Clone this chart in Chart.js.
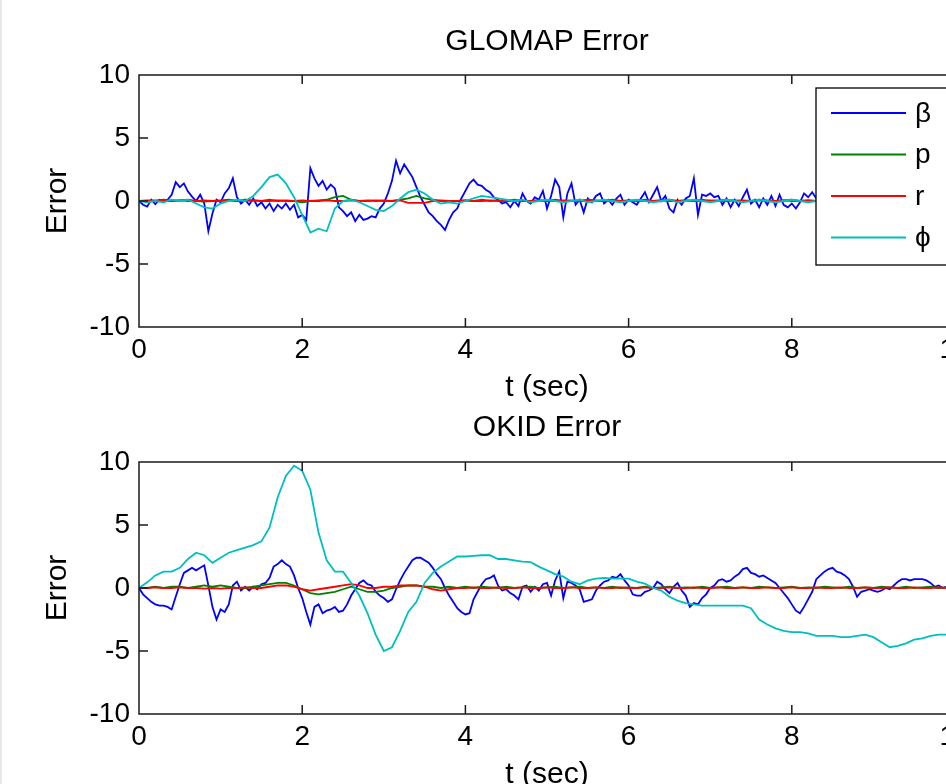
<!DOCTYPE html>
<html><head><meta charset="utf-8">
<script src="https://cdn.jsdelivr.net/npm/chart.js@4/dist/chart.umd.min.js"></script>
<style>
html,body{margin:0;padding:0;background:#fff;overflow:hidden;width:946px;height:784px;}
#wrap{position:relative;width:1000px;height:800px;}
canvas{position:absolute;left:0;}
#c1{top:0;}
#c2{top:390px;}
#edge{position:absolute;left:0;top:0;width:2px;height:784px;background:#e8e8e8;}
</style></head>
<body><div id="wrap">
<canvas id="c1" width="1000" height="410" style="width:1000px;height:410px"></canvas>
<canvas id="c2" width="1000" height="410" style="width:1000px;height:410px"></canvas>
<div id="edge"></div></div>
<script>
// ---- sampling steps (s) ----
const DT_FINE = 0.05;   // beta series
const DT_COARSE = 0.1;  // p, r, phi series

const seriesLabels = ['β', 'p', 'r', 'ϕ'];
const xTicks = [0, 2, 4, 6, 8, 10];
const yTicks = [-10, -5, 0, 5, 10];

// ---- GLOMAP Error ----
const glomapBeta = [
 0,-0.3,-0.45,0.1,-0.25,0.1,0,0.1,0.5,1.5,1.1,1.4,0.75,0.35,0,0.5,-0.2,-2.4,-1.0,0.1,
 -0.1,0.6,1.0,1.8,0.3,-0.2,0.1,-0.3,0.2,-0.4,-0.1,-0.6,-0.2,-0.8,-0.3,-0.6,-0.2,-0.7,-0.3,-1.3,
 -1.1,-1.5,2.6,1.8,1.2,1.6,0.9,1.3,1.0,-0.5,-0.8,-1.2,-0.9,-1.6,-1.1,-1.5,-1.4,-1.2,-1.3,-0.6,
 -0.2,0.6,1.6,3.2,2.2,2.9,2.4,1.9,1.1,0.3,-0.3,-0.9,-1.2,-1.6,-1.9,-2.3,-1.5,-0.9,-0.6,0.2,
 0.8,1.4,1.7,1.3,1.2,0.9,0.7,0.3,0.1,-0.2,-0.1,-0.5,0,-0.4,0.6,0,-0.2,0.3,0.1,0.8,
 -0.6,0.4,1.7,1.1,-1.3,0.6,1.4,-0.3,0.1,-0.9,0.2,-0.1,0.4,0.6,-0.2,0.1,-0.3,0.2,0.5,-0.3,
 0.1,-0.1,-0.3,0.2,0.7,-0.1,0.5,1.1,0,0.4,-0.6,-0.9,0.1,-0.3,0.2,0.4,1.8,-1.1,0.5,0.4,
 0.6,0.3,0.4,-0.3,0.2,-0.5,0.1,-0.4,0.3,0.9,-0.2,0.1,-0.5,0.2,-0.3,0.4,-0.4,0.5,-0.3,-0.5,
 -0.2,-0.6,-0.1,0.6,0.3,0.7,0.2,-0.2,0.3,-0.4,0.1,0.5,-0.1,0.2,-0.5,0.3,0,-0.3,0.4,-0.1,
 0.2,-0.4,0.1,0.5,-0.2,0.1,-0.3,0.2,0.4,-0.1,0,-0.4,0.2,0.3,-0.2,0.1,-0.3,0.2,0,-0.1,
 0.1];
const glomapP = [
 0,0.05,0,0.1,0,0.05,0.1,0,-0.05,0,
 0.05,0.1,0,0.1,0.05,0,0.1,0,0.05,0,
 -0.1,0,0.05,0.1,0.3,0.4,0.1,0,0.05,0,
 0.05,0,0.1,0.2,0.4,0.2,0.1,0,-0.05,0,
 0.05,0,0.1,0,0.05,0,0.1,0,0,0.05,
 0,0.1,0,0.05,0,0.1,0.05,0,0.1,0,
 0.05,0,0.1,0,0.05,0.1,0,0.05,0,0.1,
 0,0.05,0.1,0,0.05,0,0.1,0.05,0,0.05,
 0.1,0,0.05,0,0.1,0.05,0,0.1,0,0.05,
 0,0.1,0.05,0,0.1,0,0.05,0.1,0,0.05,
 0];
const glomapR = [
 0,0,0.05,0,0,0.05,0,0,0.05,0,
 0,0.05,0,0,0.05,0,0,0.05,0,0,
 0.05,0,0,0.05,0,0,0.05,0,0,0.05,
 0,0,0.05,-0.15,-0.15,-0.15,0,0.05,0,0,
 0.05,0,0,0.05,0,0,0.05,0,0,0.05,
 0,0,0.05,0,0,0.05,0,0,0.05,0,
 0,0.05,0,0,0.05,0,0,0.05,0,0,
 0.05,0,0,0.05,0,0,0.05,0,0,0.05,
 0,0,0.05,0,0,0.05,0,0,0.05,0,
 0,0.05,0,0,0.05,0,0,0.05,0,0,
 0];
const glomapPhi = [
 0,-0.1,0,-0.1,0.1,0,0.1,-0.2,-0.5,-0.6,
 -0.2,0,0.1,0,0.4,1.1,1.9,2.1,1.4,0.3,
 -1.1,-2.5,-2.2,-2.4,-0.6,0,0.1,-0.1,-0.4,-0.7,
 -0.8,-0.4,0.2,0.7,0.9,0.6,0.1,-0.2,-0.1,-0.2,
 0,0.2,0.4,0.3,0.2,0.1,0,0.1,-0.1,0,
 0.1,0,-0.1,0,0.1,-0.1,0,0.1,0,-0.1,
 0,0.1,0,-0.1,0,0.1,-0.1,0,0.1,0,
 -0.1,0,0.1,0,-0.1,0,0.1,0,-0.1,0,
 0.1,0,-0.1,0,0.1,0,-0.1,0,0.1,0,
 -0.1,0,0.1,0,-0.1,0,0.1,0,-0.1,0,
 0];

// ---- OKID Error ----
const okidBeta = [
 0,-0.5,-0.8,-1.1,-1.3,-1.4,-1.4,-1.5,-1.7,-0.7,0.3,1.2,1.4,1.6,1.4,1.6,1.8,0.2,-1.5,-2.5,
 -1.7,-1.9,-1.3,0.2,0.5,-0.2,0.1,-0.2,0.1,-0.1,0.3,0.4,0.8,1.7,1.9,2.2,1.9,1.7,1.0,0,
 -0.8,-1.9,-2.9,-1.5,-1.3,-2.0,-1.8,-1.7,-1.5,-1.9,-1.8,-1.3,-0.6,-0.1,0.4,0.6,0.3,0.2,-0.3,-0.6,
 -0.8,-1.1,-0.9,-0.1,0.6,1.2,1.7,2.2,2.4,2.4,2.2,2.0,1.6,1.1,0.7,0,-0.6,-1.1,-1.6,-1.9,
 -2.1,-2.0,-0.9,-0.3,0.3,0.7,0.8,1.0,0.2,-0.2,-0.1,-0.4,-0.6,-0.9,0.1,0.2,-0.3,0.1,-0.2,0.3,
 0.4,-0.6,0.6,1.3,-0.8,0.5,0.4,0.2,-0.1,-1.1,-1.0,-0.9,-0.2,0.2,0.5,0.6,0.9,0.8,1.1,0.6,
 0.2,-0.5,-0.6,-0.6,-0.3,-0.2,0,0.5,0.3,-0.1,-0.4,0.1,0.4,-0.2,-0.6,-1.5,-1.2,-1.3,-0.8,-0.5,
 0,0.2,0.6,0.7,0.5,0.6,0.9,1.1,1.5,1.6,1.2,1.1,0.9,1.0,0.8,0.6,0.4,0,-0.4,-0.8,
 -1.3,-1.8,-2.0,-1.5,-0.9,-0.3,0.7,1.0,1.3,1.5,1.6,1.3,1.2,1.0,0.7,0.1,-0.7,-0.3,-0.2,-0.1,
 -0.2,-0.3,-0.2,0,-0.1,0.2,0.5,0.7,0.7,0.6,0.7,0.7,0.7,0.6,0.4,0.1,0.2,0,0.1,0,
 0];
const okidP = [
 0,0,0.1,0,0.1,0.1,0,0.1,0.2,0.1,
 0.2,0.1,0,0,0.1,0.2,0.3,0.4,0.4,0.2,
 -0.1,-0.4,-0.5,-0.4,-0.3,-0.1,0.1,-0.1,-0.3,-0.3,
 -0.2,0,0.1,0.2,0.2,0.1,0.1,0,0.1,0,
 0.1,0,0.1,0.05,0,0.1,0,0.05,0.1,0,
 0.05,0.1,0,0.05,0.1,0,0.05,0,0.1,0,
 0.05,0,0.1,0,0.05,0.1,0,0.05,0,0.1,
 0,0.05,0.1,0,0.05,0,0.1,0.05,0,0.05,
 0.1,0,0.05,0,0.1,0.05,0,0.1,0,0.05,
 0,0.1,0.05,0,0.1,0,0.05,0.1,0,0.05,
 0];
const okidR = [
 0,0,0.05,0,0,0.05,0,0,-0.05,0,
 -0.05,0,0,0.05,0,0,0.1,0.2,0.2,0.1,
 -0.1,-0.2,-0.1,0,0.1,0.2,0.3,0.2,0,0,
 0.1,0.1,0.2,0.2,0.2,0.1,-0.1,-0.2,-0.1,0,
 0,0.05,0,0,0.05,0,0,0.05,0,0,
 0.05,0,0,0.05,0,0,0.05,0,0,0.05,
 0,0,0.05,0,0,0.05,0,0,0.05,0,
 0,0.05,0,0,0.05,0,0,0.05,0,0,
 0.05,0,0,0.05,0,0,0.05,0,0,0.05,
 0,0,0.05,0,0,0.05,0,0,0.05,0,
 0];
const okidPhi = [
 0,0.45,1.0,1.3,1.3,1.6,2.3,2.8,2.6,2.0,
 2.4,2.8,3.0,3.2,3.4,3.7,4.8,7.2,8.9,9.7,
 9.3,7.8,4.4,2.2,1.3,1.3,0.4,-0.6,-2.0,-3.7,
 -5.0,-4.7,-3.4,-1.9,-1.1,0.4,1.2,1.7,2.1,2.5,
 2.5,2.55,2.6,2.6,2.3,2.3,2.2,2.1,2.05,1.7,
 1.4,1.1,0.9,0.5,0.3,0.6,0.75,0.8,0.75,0.75,
 0.75,0.5,0.35,0,-0.2,-0.7,-1.0,-1.2,-1.3,-1.4,
 -1.4,-1.4,-1.4,-1.4,-1.4,-1.6,-2.5,-2.9,-3.2,-3.4,
 -3.5,-3.5,-3.6,-3.8,-3.8,-3.8,-3.9,-3.9,-3.8,-3.7,
 -3.9,-4.3,-4.7,-4.6,-4.4,-4.1,-4.0,-3.8,-3.7,-3.7,
 -3.7];

// ---- styling ----
const COLORS = ['#0000ff', '#008000', '#ff0000', '#00bfbf'];
const FONT = "'Liberation Sans', Arial, Helvetica, sans-serif";
const FS = 28;      // tick & legend text
const FS_T = 30;    // titles and axis labels

function pts(values, dt) {
  return values.map((v, i) => ({ x: Math.round(i * dt * 100) / 100, y: v }));
}

const matlabAxes = {
  id: 'matlabAxes',
  afterDatasetsDraw(chart, args, opts) {
    const { ctx, chartArea: { left, right, top, bottom }, scales: { x, y } } = chart;
    const TL = 9;
    ctx.save();
    ctx.strokeStyle = '#1a1a1a';
    ctx.lineWidth = 1.5;
    ctx.beginPath();
    ctx.rect(left, top, right - left, bottom - top);
    x.ticks.forEach(t => {
      const px = x.getPixelForValue(t.value);
      ctx.moveTo(px, bottom); ctx.lineTo(px, bottom - TL);
      ctx.moveTo(px, top); ctx.lineTo(px, top + TL);
    });
    y.ticks.forEach(t => {
      const py = y.getPixelForValue(t.value);
      ctx.moveTo(left, py); ctx.lineTo(left + TL, py);
      ctx.moveTo(right, py); ctx.lineTo(right - TL, py);
    });
    ctx.stroke();

    if (opts && opts.legend) {
      const bw = 133, bh = 177;
      const bx = right - 139, by = top + 13;
      ctx.fillStyle = '#fff';
      ctx.fillRect(bx, by, bw, bh);
      ctx.lineWidth = 1.3;
      ctx.strokeStyle = '#000';
      ctx.strokeRect(bx, by, bw, bh);
      ctx.font = FS + 'px ' + FONT;
      ctx.textBaseline = 'middle';
      ctx.textAlign = 'left';
      chart.data.datasets.forEach((ds, i) => {
        const ly = by + 25 + i * 41.5;
        ctx.strokeStyle = ds.borderColor;
        ctx.lineWidth = 1.8;
        ctx.beginPath();
        ctx.moveTo(bx + 15, ly); ctx.lineTo(bx + 90, ly);
        ctx.stroke();
        ctx.fillStyle = '#000';
        ctx.fillText(ds.label, bx + 99, ly + 1);
      });
    }
    ctx.restore();
  }
};

function makeChart(id, title, series, geo, withLegend) {
  const datasets = series.map((s, i) => ({
    label: seriesLabels[i],
    data: s,
    borderColor: COLORS[i],
    backgroundColor: COLORS[i],
    borderWidth: 1.8,
    pointRadius: 0,
    tension: 0,
    fill: false,
    order: 4 - i
  }));
  return new Chart(document.getElementById(id), {
    type: 'line',
    data: { datasets },
    plugins: [matlabAxes],
    options: {
      responsive: false,
      animation: false,
      devicePixelRatio: 1,
      events: [],
      parsing: false,
      layout: { autoPadding: false, padding: { left: 0, right: 45, top: 0, bottom: 0 } },
      plugins: {
        legend: { display: false },
        tooltip: { enabled: false },
        matlabAxes: { legend: withLegend },
        title: {
          display: true, text: title, color: '#000', fullSize: false,
          font: { family: FONT, size: FS_T, weight: 'normal', lineHeight: 1 },
          padding: { top: geo.titleTop, bottom: geo.titleBottom }
        }
      },
      scales: {
        x: {
          type: 'linear', min: 0, max: 10,
          afterBuildTicks: s => { s.ticks = xTicks.map(v => ({ value: v })); },
          ticks: { color: '#000', font: { family: FONT, size: FS, lineHeight: 1 }, padding: 9, maxRotation: 0, autoSkip: false },
          grid: { display: false, drawTicks: false },
          border: { display: false },
          title: { display: true, text: 't (sec)', color: '#000',
                   font: { family: FONT, size: FS_T, lineHeight: 1 }, padding: { top: 0, bottom: geo.xTitlePad } },
          afterFit: s => { s.height = geo.xHeight; }
        },
        y: {
          type: 'linear', min: -10, max: 10,
          afterBuildTicks: s => { s.ticks = yTicks.map(v => ({ value: v })); },
          ticks: { color: '#000', font: { family: FONT, size: FS, lineHeight: 1 }, padding: 9, autoSkip: false },
          grid: { display: false, drawTicks: false },
          border: { display: false },
          title: { display: true, text: 'Error', color: '#000',
                   font: { family: FONT, size: FS_T, lineHeight: 1 }, padding: { top: 43, bottom: 0 } },
          afterFit: s => { s.width = 139; }
        }
      }
    }
  });
}

makeChart('c1', 'GLOMAP Error',
  [pts(glomapBeta, DT_FINE), pts(glomapP, DT_COARSE), pts(glomapR, DT_COARSE), pts(glomapPhi, DT_COARSE)],
  { titleTop: 27, titleBottom: 18, xHeight: 83, xTitlePad: 7 }, true);

makeChart('c2', 'OKID Error',
  [pts(okidBeta, DT_FINE), pts(okidP, DT_COARSE), pts(okidR, DT_COARSE), pts(okidPhi, DT_COARSE)],
  { titleTop: 23, titleBottom: 19, xHeight: 86, xTitlePad: 10 }, false);
</script>
</body></html>
